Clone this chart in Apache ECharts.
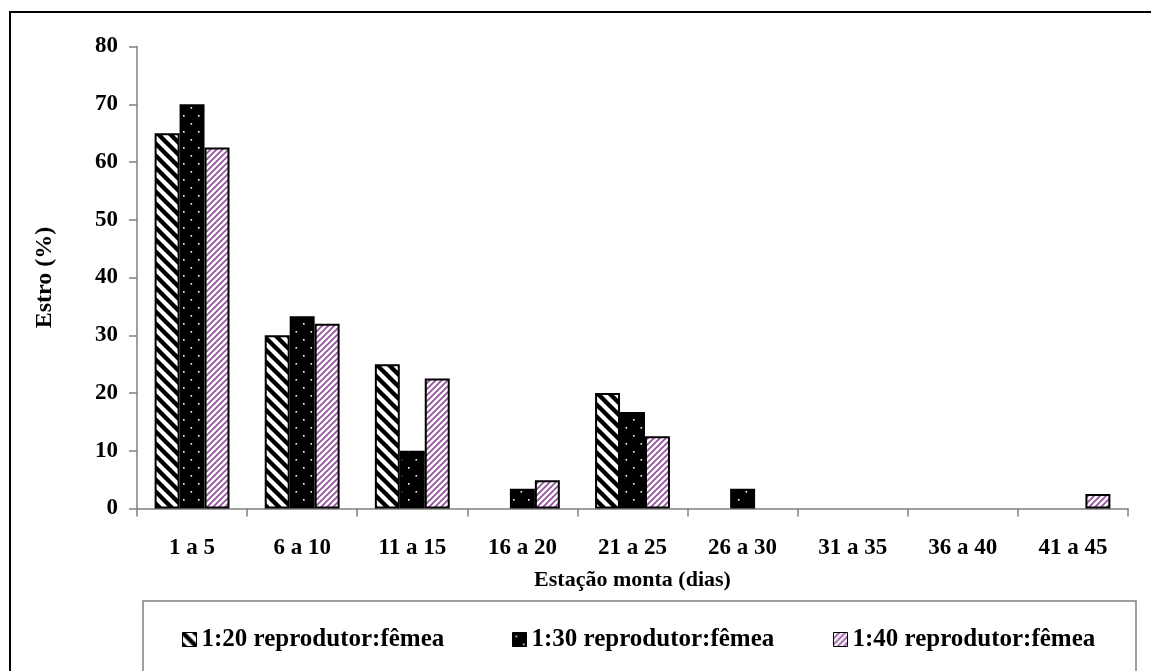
<!DOCTYPE html>
<html>
<head>
<meta charset="utf-8">
<script src="https://cdn.jsdelivr.net/npm/echarts@6/dist/echarts.min.js"></script>
<style>
html,body{margin:0;padding:0;background:#fff;}
#chart{width:1151px;height:671px;}
</style>
</head>
<body>
<div id="chart"></div>
<script>
const categories = ['1 a 5','6 a 10','11 a 15','16 a 20','21 a 25','26 a 30','31 a 35','36 a 40','41 a 45'];
const seriesNames = ['1:20 reprodutor:fêmea','1:30 reprodutor:fêmea','1:40 reprodutor:fêmea'];
const s20 = [65, 30, 25, 0, 20, 0, 0, 0, 0];
const s30 = [70, 33.3, 10, 3.4, 16.7, 3.4, 0, 0, 0];
const s40 = [62.5, 32, 22.5, 4.9, 12.5, 0, 0, 0, 2.5];
const yTicks = [0, 10, 20, 30, 40, 50, 60, 70, 80];

const FONT = '"Liberation Serif", "Times New Roman", serif';

function stripePattern(size, lw, color, dir, bg) {
  const c = document.createElement('canvas');
  c.width = size; c.height = size;
  const g = c.getContext('2d');
  g.fillStyle = bg; g.fillRect(0, 0, size, size);
  g.strokeStyle = color; g.lineWidth = lw;
  for (let k = -size; k <= size; k += size) {
    g.beginPath();
    if (dir === 'back') { g.moveTo(k - 2, -2); g.lineTo(k + size + 2, size + 2); }
    else { g.moveTo(k - 2, size + 2); g.lineTo(k + size + 2, -2); }
    g.stroke();
  }
  return { image: c, repeat: 'repeat' };
}
function dotPattern() {
  const c = document.createElement('canvas');
  c.width = 15; c.height = 16;
  const g = c.getContext('2d');
  g.fillStyle = '#000'; g.fillRect(0, 0, 15, 16);
  g.fillStyle = '#fff';
  g.fillRect(3, 3, 1.6, 1.6);
  g.fillRect(10.5, 11, 1.6, 1.6);
  return { image: c, repeat: 'repeat' };
}

const pat20 = stripePattern(12, 4.4, '#000', 'back', '#fff');
const pat30 = dotPattern();
const pat40 = stripePattern(6, 1.7, '#93509a', 'fwd', '#fff');

const chart = echarts.init(document.getElementById('chart'), null, { renderer: 'canvas' });

function mkSeries(name, data, pat) {
  return {
    name: name, type: 'bar',
    data: data.map(v => (v === 0 ? null : v)),
    barGap: '0%', barCategoryGap: '32%',
    itemStyle: { color: pat, borderColor: '#000', borderWidth: 2 },
    emphasis: { disabled: true }
  };
}
function mkLegend(name, left) {
  return {
    data: [name], left: left, top: 622, itemWidth: 14, itemHeight: 14,
    icon: 'rect', itemGap: 0,
    textStyle: { fontFamily: FONT, fontWeight: 'bold', fontSize: 25, color: '#000' },
    itemStyle: { borderColor: '#000', borderWidth: 1 }
  };
}

chart.setOption({
  animation: false,
  backgroundColor: '#fff',
  grid: { left: 137, right: 23, top: 46.5, bottom: 162.5, containLabel: false },
  legend: [mkLegend(seriesNames[0], 177), mkLegend(seriesNames[1], 507), mkLegend(seriesNames[2], 828)],
  graphic: [
    { type: 'rect', shape: { x: 10, y: 12, width: 1170, height: 700 }, style: { fill: 'none', stroke: '#000', lineWidth: 2 }, silent: true, z: 100 },
    { type: 'rect', shape: { x: 143, y: 601, width: 993, height: 100 }, style: { fill: 'none', stroke: '#808080', lineWidth: 1.5 }, silent: true, z: 100 }
  ],
  xAxis: {
    type: 'category', data: categories,
    name: 'Estação monta (dias)', nameLocation: 'middle', nameGap: 61,
    nameTextStyle: { fontFamily: FONT, fontWeight: 'bold', fontSize: 22, color: '#000' },
    axisLine: { lineStyle: { color: '#808080', width: 1.5 } },
    axisTick: { show: true, length: 8, interval: 0, lineStyle: { color: '#808080', width: 1.5 } },
    axisLabel: { interval: 0, margin: 28, fontFamily: FONT, fontWeight: 'bold', fontSize: 23, color: '#000' }
  },
  yAxis: {
    type: 'value', min: yTicks[0], max: yTicks[yTicks.length - 1], interval: 10,
    name: 'Estro (%)', nameLocation: 'middle', nameGap: 80, nameRotate: 90,
    nameTextStyle: { fontFamily: FONT, fontWeight: 'bold', fontSize: 24, color: '#000' },
    axisLine: { show: true, lineStyle: { color: '#808080', width: 1.5 } },
    axisTick: { show: true, length: 8, lineStyle: { color: '#808080', width: 1.5 } },
    splitLine: { show: false },
    axisLabel: { margin: 19, fontFamily: FONT, fontWeight: 'bold', fontSize: 23, color: '#000' }
  },
  series: [mkSeries(seriesNames[0], s20, pat20), mkSeries(seriesNames[1], s30, pat30), mkSeries(seriesNames[2], s40, pat40)]
});
</script>
</body>
</html>
